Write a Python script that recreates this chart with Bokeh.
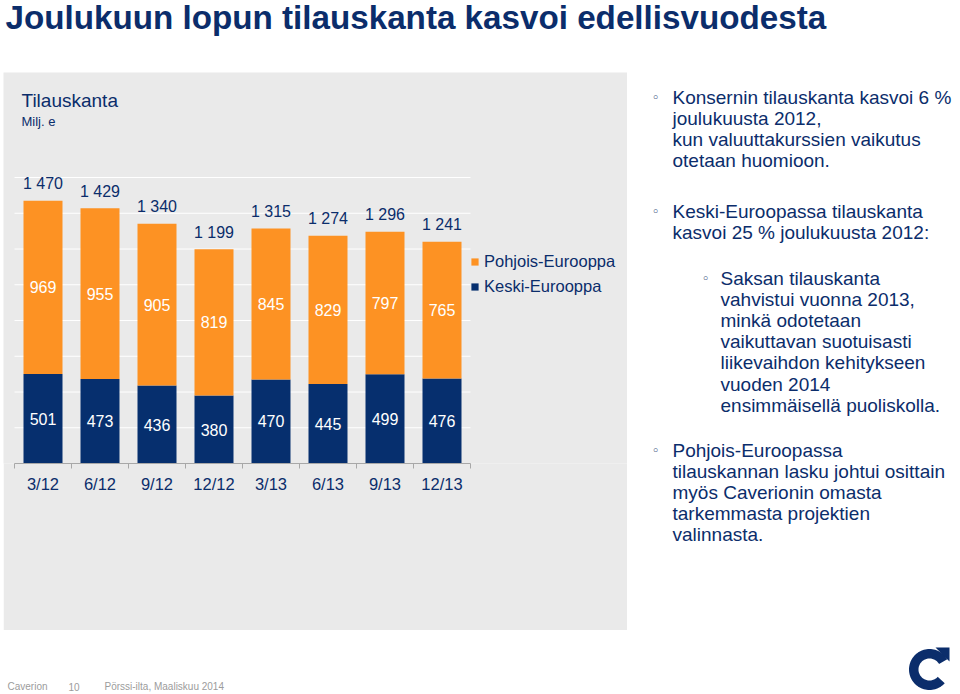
import math
from bokeh.plotting import figure
from bokeh.layouts import row, column
from bokeh.models import (ColumnDataSource, Range1d, FixedTicker, Label, Legend,
                          LegendItem, Spacer)
from bokeh.core.properties import value
from bokeh.embed import file_html
from bokeh.resources import INLINE

# ---------------- data ----------------
periods = ["3/12", "6/12", "9/12", "12/12", "3/13", "6/13", "9/13", "12/13"]
keski = [501, 473, 436, 380, 470, 445, 499, 476]          # Keski-Eurooppa
pohjois = [969, 955, 905, 819, 845, 829, 797, 765]        # Pohjois-Eurooppa
totals = [1470, 1429, 1340, 1199, 1315, 1274, 1296, 1241]
grid_values = [200, 400, 600, 800, 1000, 1200, 1400, 1600]
series_names = ["Pohjois-Eurooppa", "Keski-Eurooppa"]

title_text = "Joulukuun lopun tilauskanta kasvoi edellisvuodesta"
chart_title = "Tilauskanta"
chart_unit = "Milj. e"
bullet_blocks = [
    ["Konsernin tilauskanta kasvoi 6 %", "joulukuusta 2012,",
     "kun valuuttakurssien vaikutus", "otetaan huomioon."],
    ["Keski-Euroopassa tilauskanta", "kasvoi 25 % joulukuusta 2012:"],
    ["Saksan tilauskanta", "vahvistui vuonna 2013,", "minkä odotetaan",
     "vaikuttavan suotuisasti", "liikevaihdon kehitykseen", "vuoden 2014",
     "ensimmäisellä puoliskolla."],
    ["Pohjois-Euroopassa", "tilauskannan lasku johtui osittain",
     "myös Caverionin omasta", "tarkemmasta projektien", "valinnasta."],
]
footer_texts = ["Caverion", "10", "Pörssi-ilta, Maaliskuu 2014"]

# ---------------- style ----------------
FONT = "Liberation Sans"
NAVY = "#0B2D6B"
BAR_NAVY = "#062F6E"
ORANGE = "#FD9223"
PANEL = "#EAEAEA"
AXIS_GRAY = "#A8A8A8"

W, H = 960, 694
PL, PR, PT, PB = 3, 627, 72, 630       # grey panel (page pixels)
L, R, B = 14, 470, 463                 # category axis extent / baseline (page pixels)
XS = (R - L) / len(periods)            # px per category
YS = (B - 177) / 1600.0                # px per unit


def dx(px):
    return (px - L) / XS


def dy(py):
    return (B - py) / YS


def blank_fig(x0, x1, y0, y1, bg="white"):
    """figure whose data coordinates are page pixels"""
    f = figure(width=x1 - x0, height=y1 - y0, x_range=Range1d(x0, x1), y_range=Range1d(y1, y0),
               output_backend="svg", toolbar_location=None, x_axis_location=None,
               y_axis_location=None, min_border=0, title=None)
    f.outline_line_color = None
    f.background_fill_color = bg
    f.border_fill_color = bg
    f.xgrid.visible = False
    f.ygrid.visible = False
    return f


def plabel(f, x, y, text, size, color=NAVY, style="normal", font=FONT, align="left"):
    f.add_layout(Label(x=x, y=y, text=text, text_font=font, text_font_size=size,
                       text_color=color, text_font_style=style, text_align=align,
                       text_baseline="middle"))


# ---------------- title ----------------
ftitle = blank_fig(0, W, 0, PT)
plabel(ftitle, 5, 17, title_text, "33.2px", style="bold")

# ---------------- chart ----------------
p = figure(width=PR - PL, height=PB - PT, x_range=Range1d(dx(PL), dx(PR)),
           y_range=Range1d(0, dy(PT)), output_backend="svg", toolbar_location=None,
           y_axis_location=None, min_border_left=0, min_border_right=0, min_border_top=0,
           min_border_bottom=PB - B, title=None)
p.outline_line_color = None
p.background_fill_color = PANEL
p.border_fill_color = PANEL
p.xgrid.visible = False
p.ygrid.visible = False

n = len(periods)
p.segment(x0=[0] * len(grid_values), x1=[n] * len(grid_values), y0=grid_values,
          y1=grid_values, line_color="white", line_width=1)

xs = [i + 0.5 for i in range(n)]
fmt = lambda v: f"{v:,}".replace(",", " ")
src = ColumnDataSource(dict(
    x=xs, keski=keski, pohjois=pohjois, total=totals,
    keski_mid=[k / 2 for k in keski],
    pohjois_mid=[k + q / 2 for k, q in zip(keski, pohjois)],
    keski_lbl=[str(k) for k in keski],
    pohjois_lbl=[str(q) for q in pohjois],
    total_lbl=[fmt(t) for t in totals],
))

rs = p.vbar_stack(["keski", "pohjois"], x="x", width=0.684, source=src,
                  fill_color=[BAR_NAVY, ORANGE], line_color=None)

common = dict(text_align="center", text_baseline="middle", text_font=value(FONT),
              text_font_size="16px", source=src)
p.text(x="x", y="keski_mid", text="keski_lbl", text_color="white", **common)
p.text(x="x", y="pohjois_mid", text="pohjois_lbl", text_color="white", **common)
p.text(x="x", y="total", text="total_lbl", text_color=NAVY, y_offset=-17, **common)

ax = p.xaxis[0]
ax.bounds = (0, n)
ax.ticker = FixedTicker(ticks=xs, minor_ticks=list(range(n + 1)))
ax.major_label_overrides = {x: lab for x, lab in zip(xs, periods)}
ax.major_tick_line_color = None
ax.major_tick_out = 0
ax.major_tick_in = 0
ax.minor_tick_line_color = AXIS_GRAY
ax.minor_tick_out = 5
ax.minor_tick_in = 0
ax.axis_line_color = AXIS_GRAY
ax.axis_line_width = 1
ax.major_label_standoff = 6
ax.major_label_text_font = FONT
ax.major_label_text_font_size = "16.5px"
ax.major_label_text_color = NAVY

legend = Legend(items=[LegendItem(label=series_names[0], renderers=[rs[1]]),
                       LegendItem(label=series_names[1], renderers=[rs[0]])],
                location=(R - PL, B - 299), orientation="vertical",
                glyph_width=9, glyph_height=9, label_standoff=5, label_height=25,
                spacing=0, padding=0, margin=0, border_line_color=None,
                background_fill_alpha=0, label_text_font=FONT,
                label_text_font_size="16.5px", label_text_color=NAVY)
p.add_layout(legend)

p.add_layout(Label(x=dx(21), y=dy(100), text=chart_title, text_font=FONT,
                   text_font_size="19px", text_color=NAVY, text_baseline="middle"))
p.add_layout(Label(x=dx(21), y=dy(121), text=chart_unit, text_font=FONT,
                   text_font_size="13px", text_color=NAVY, text_baseline="middle"))

# ---------------- footer ----------------
ffoot = blank_fig(PL, PR, PB, H)
for fx, ft in zip([7, 68, 104], footer_texts):
    plabel(ffoot, fx, 686, ft, "10px", color="#9C9C9C")

# ---------------- right column ----------------
ftext = blank_fig(PR, W, PT, H)
starts = [(655, 672, 97), (655, 672, 211), (705, 720, 278), (655, 672, 450)]
for (bx, tx, y0), lines in zip(starts, bullet_blocks):
    plabel(ftext, bx, y0, "◦", "13px", font="DejaVu Sans", align="center")
    for j, ln in enumerate(lines):
        plabel(ftext, tx, y0 + j * 21.1, ln, "19px")

# logo (C with arrow), page pixel coordinates
cx, cy, ro, ri = 929, 669, 20.5, 11
a0, a1 = 30, 318
outer = [(cx + ro * math.cos(math.radians(a)), cy - ro * math.sin(math.radians(a)))
         for a in range(a0, a1 + 1, 4)]
inner = [(cx + ri * math.cos(math.radians(a)), cy - ri * math.sin(math.radians(a)))
         for a in range(a1, a0 - 1, -4)]
ring = outer + inner
ftext.patch([a for a, b in ring], [b for a, b in ring], fill_color=NAVY, line_color=None)
tri = [(935, 647), (949, 647), (949, 661)]
ftext.patch([a for a, b in tri], [b for a, b in tri], fill_color=NAVY, line_color=None)

layout = column(ftitle,
                row(Spacer(width=PL, height=H - PT),
                    column(p, ffoot, spacing=0),
                    ftext, spacing=0),
                spacing=0)

open("out.html", "w").write(file_html(layout, INLINE))
